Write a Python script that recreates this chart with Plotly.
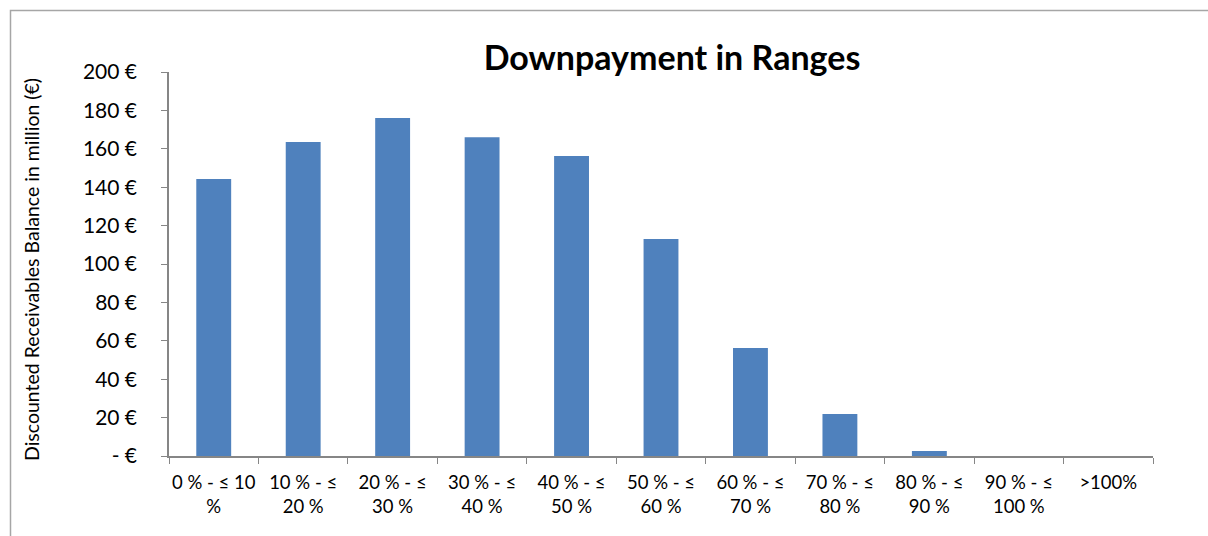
import plotly.graph_objects as go

categories = ["0 % - ≤ 10<br>%", "10 % - ≤<br>20 %", "20 % - ≤<br>30 %", "30 % - ≤<br>40 %",
              "40 % - ≤<br>50 %", "50 % - ≤<br>60 %", "60 % - ≤<br>70 %", "70 % - ≤<br>80 %",
              "80 % - ≤<br>90 %", "90 % - ≤<br>100 %", ">100%"]
values = [144.3, 163.5, 176.0, 166.0, 156.3, 113.0, 56.2, 21.9, 2.6, 0.0, 0.0]
y_tickvals = [0, 20, 40, 60, 80, 100, 120, 140, 160, 180, 200]
y_ticktext = ["- €", "20 €", "40 €", "60 €", "80 €", "100 €", "120 €", "140 €", "160 €", "180 €", "200 €"]
y_title = "Discounted Receivables Balance in million (€)"
chart_title = "Downpayment in Ranges"

FONT = "Lato, 'Open Sans', sans-serif"

fig = go.Figure(go.Bar(
    x=categories, y=values,
    marker=dict(color="#4F81BD", line=dict(color="#4F81BD", width=0)),
    width=0.39,
))

fig.update_layout(
    width=1208, height=536,
    margin=dict(l=169, r=55, t=72, b=80),
    paper_bgcolor="white", plot_bgcolor="white",
    showlegend=False,
    font=dict(family=FONT, color="black"),
    title=dict(text="<b>" + chart_title + "</b>", x=(672 / 1208), xanchor="center",
               y=1 - 58 / 536, yanchor="middle",
               font=dict(size=34, family=FONT, color="black")),
    xaxis=dict(
        type="category", tickson="boundaries", ticks="outside", ticklen=6,
        tickcolor="#868686", showline=True, linecolor="#868686", linewidth=1.5,
        showgrid=False, tickfont=dict(size=18.5, family=FONT), range=[-0.5, 10.5],
        tickangle=0, automargin=False, ticklabelstandoff=9,
    ),
    yaxis=dict(
        range=[0, 200], tickvals=y_tickvals, ticktext=y_ticktext,
        ticks="outside", ticklen=6, tickcolor="#868686", showline=True,
        linecolor="#868686", linewidth=1.5, showgrid=False, zeroline=False,
        tickfont=dict(size=21, family=FONT), automargin=False, ticklabelstandoff=20,
    ),
    annotations=[dict(text=y_title, xref="paper", yref="paper",
                      x=(31 - 169) / 984, y=(456 - 270) / 384, textangle=-90,
                      showarrow=False, xanchor="center", yanchor="middle",
                      font=dict(size=19.5, family=FONT, color="black"))],
    shapes=[dict(type="rect", xref="paper", yref="paper",
                 x0=(10.5 - 169) / 984, x1=1.1, y0=-0.3, y1=1 + (72 - 10.5) / 384,
                 line=dict(color="#A6A6A6", width=1.5), fillcolor="rgba(0,0,0,0)", layer="below")],
)

fig.write_html("out.html", config={"displayModeBar": False},
               post_script="document.body.style.margin='0px';")
